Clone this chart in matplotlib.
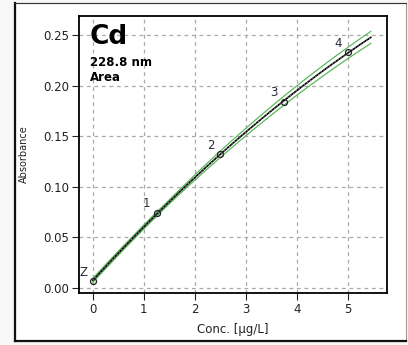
import numpy as np
import matplotlib
matplotlib.use("Agg")
import matplotlib.pyplot as plt
from matplotlib.patches import Rectangle
from matplotlib.lines import Line2D

# calibration standards
conc = [0.0, 1.25, 2.5, 3.75, 5.0]
absorb = [0.0065, 0.074, 0.132, 0.184, 0.233]
point_labels = ["Z", "1", "2", "3", "4"]
x_ticks = [0, 1, 2, 3, 4, 5]
y_ticks = [0.00, 0.05, 0.10, 0.15, 0.20, 0.25]
fit_end = 5.45
band_rel = 0.024   # relative half-width of the green band
band_min = 0.002   # minimum half-width near zero

plt.rcParams["font.family"] = "DejaVu Sans"

fig = plt.figure(figsize=(4.08, 3.45), dpi=100)
fig.patch.set_facecolor("#f8f8f8")

# white panel with dark left/bottom edges (drawn behind the axes)
fig.patches.append(Rectangle((15 / 408, 4 / 345), 391 / 408, 338 / 345,
                             transform=fig.transFigure, facecolor="white",
                             edgecolor="#9a9a9a", lw=0.8, zorder=-2))
fig.lines.append(Line2D([15 / 408, 15 / 408], [4 / 345, 342 / 345],
                        transform=fig.transFigure, color="#111", lw=1.6, zorder=-1))
fig.lines.append(Line2D([15 / 408, 406 / 408], [4 / 345, 4 / 345],
                        transform=fig.transFigure, color="#111", lw=1.6, zorder=-1))
fig.lines.append(Line2D([15 / 408, 406 / 408], [342 / 345, 342 / 345],
                        transform=fig.transFigure, color="#333", lw=0.8, zorder=-1))

ax = fig.add_axes([79 / 408, 52 / 345, 307.6 / 408, 277 / 345])
ax.set_facecolor("white")

# quadratic calibration fit
coef = np.polyfit(conc, absorb, 2)
xf = np.linspace(0, fit_end, 200)
yf = np.polyval(coef, xf)
hw = np.maximum(band_rel * yf, band_min)

ax.plot(xf, yf + hw, color="#5cb85c", lw=0.9, zorder=3)
ax.plot(xf, yf - hw, color="#5cb85c", lw=0.9, zorder=3)
ax.plot(xf, yf, color="black", lw=1.2, zorder=4)
ax.plot(xf, yf, color="#aaaaaa", lw=0.5, ls=(0, (2, 3)), zorder=4)
ax.plot(conc, absorb, ls="none", marker="o", ms=4.3, mfc="none",
        mec="#222", mew=0.9, zorder=5)

for cx, cy, lab in zip(conc, absorb, point_labels):
    ax.annotate(lab, (cx, cy), xytext=(-7, 6.5), textcoords="offset points",
                ha="center", va="center", fontsize=8.5, color="#2a2a3a")

ax.text(0.035, 0.97, "Cd", transform=ax.transAxes, fontsize=19,
        fontweight="bold", va="top", ha="left")
ax.text(0.035, 0.855, "228.8 nm", transform=ax.transAxes, fontsize=8.5,
        fontweight="bold", va="top", ha="left")
ax.text(0.035, 0.80, "Area", transform=ax.transAxes, fontsize=8.5,
        fontweight="bold", va="top", ha="left")

ax.set_xlim(-0.27, 5.76)
ax.set_ylim(-0.0053, 0.269)
ax.set_xticks(x_ticks)
ax.set_yticks(y_ticks)
ax.set_yticklabels([f"{v:.2f}" for v in y_ticks])
ax.tick_params(direction="out", length=5, width=0.8, labelsize=8.5,
               colors="#222", pad=2)
ax.grid(True, color="#a8a8a8", ls=(0, (3, 3)), lw=0.9)
ax.set_axisbelow(True)
for s in ax.spines.values():
    s.set_color("black")
    s.set_linewidth(1.3)

ax.set_xlabel("Conc. [µg/L]", fontsize=8.5, color="#222", labelpad=5)
ax.set_ylabel("Absorbance", fontsize=7, color="#222", labelpad=10)

fig.savefig("out.png", dpi=100, facecolor=fig.get_facecolor())
